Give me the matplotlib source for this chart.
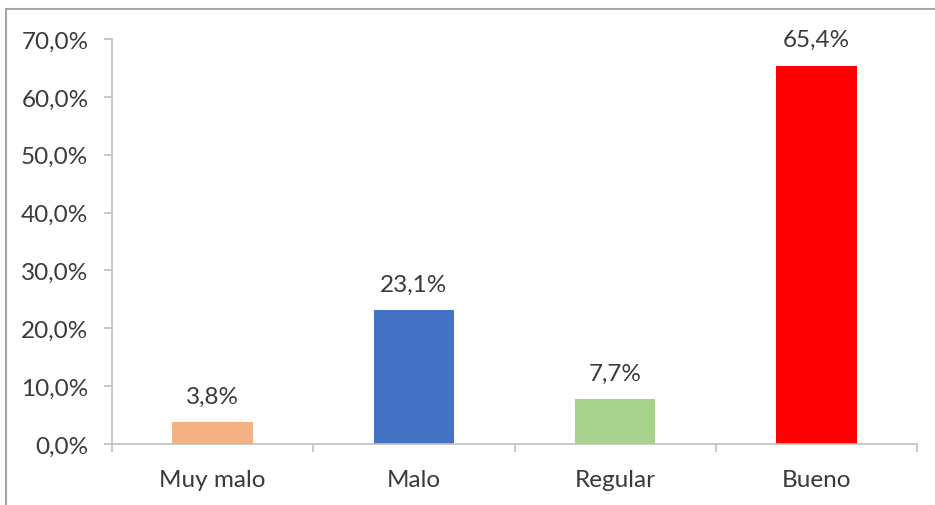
import matplotlib.pyplot as plt
from matplotlib.lines import Line2D
from matplotlib.ticker import FixedLocator, FuncFormatter

categorias = ['Muy malo', 'Malo', 'Regular', 'Bueno']
porcentajes = [3.8, 23.1, 7.7, 65.4]
colores = ['#F4B183', '#4472C4', '#A9D18E', '#FF0000']
yticks = [0, 10, 20, 30, 40, 50, 60, 70]

plt.rcParams['font.family'] = ['Lato', 'DejaVu Sans']
texto = '#3A3A3A'
eje = '#BFBFBF'
fs = 17.5

fig = plt.figure(figsize=(9.35, 5.06), dpi=100)
ax = fig.add_axes([112 / 935, 1 - 445 / 506, 805 / 935, 405 / 506])

x = range(len(categorias))
ax.bar(x, porcentajes, width=0.40, color=colores, zorder=2)

for xi, v in zip(x, porcentajes):
    ax.annotate(f'{v:.1f}%'.replace('.', ','), (xi, v), xytext=(0, 11),
                textcoords='offset points', ha='center', va='bottom',
                fontsize=fs, color=texto)

ax.set_xlim(-0.5, len(categorias) - 0.5)
ax.set_ylim(0, 70)
ax.set_yticks(yticks)
ax.yaxis.set_major_formatter(FuncFormatter(lambda v, p: f'{v:.1f}%'.replace('.', ',')))
ax.set_xticks(list(x))
ax.set_xticklabels(categorias)
ax.xaxis.set_minor_locator(FixedLocator([i - 0.5 for i in range(len(categorias) + 1)]))

ax.tick_params(axis='x', which='major', length=0, pad=18, labelsize=fs, labelcolor=texto)
ax.tick_params(axis='x', which='minor', length=6, color=eje, width=1.2)
ax.tick_params(axis='y', length=6, color=eje, width=1.2, pad=11, labelsize=fs, labelcolor=texto)

for s in ['top', 'right']:
    ax.spines[s].set_visible(False)
for s in ['left', 'bottom']:
    ax.spines[s].set_color(eje)
    ax.spines[s].set_linewidth(1.2)

# marco exterior del grafico
fig.add_artist(Line2D([6 / 935, 1], [1 - 10 / 506, 1 - 10 / 506],
                      transform=fig.transFigure, color='#A6A6A6', lw=1.5))
fig.add_artist(Line2D([6 / 935, 6 / 935], [0, 1 - 10 / 506],
                      transform=fig.transFigure, color='#A6A6A6', lw=1.5))

fig.savefig('out.png', dpi=100)
